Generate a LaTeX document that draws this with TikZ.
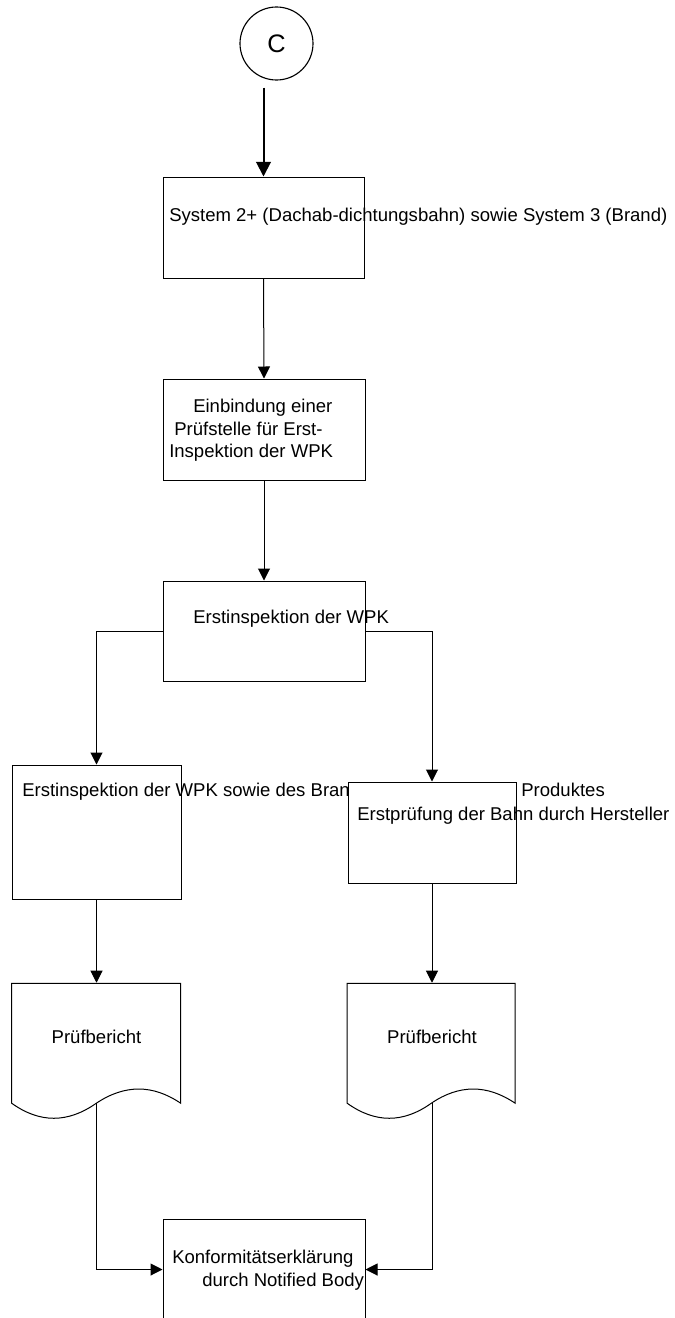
\documentclass[tikz,border=0pt]{standalone}
\usepackage{fontspec}
\setmainfont{Liberation Sans}
\usetikzlibrary{arrows.meta,calc}
\begin{document}
\begin{tikzpicture}[x=0.75pt,y=-0.75pt,
  font=\fontsize{13.9pt}{16.9pt}\selectfont,
  box/.style={draw=black, fill=white, line width=0.75pt, inner sep=0pt},
  txt/.style={inner sep=0pt, anchor=west, align=left},
  ctxt/.style={inner sep=0pt, anchor=center},
  arr/.style={-{Triangle[length=9pt,width=9pt]}, line width=0.75pt},
  thickarr/.style={-{Triangle[length=11pt,width=11pt]}, line width=1.5pt},
  docline/.style={draw=black, fill=white, line width=0.75pt},
  ghost/.style={inner sep=0pt, minimum width=126.75pt, minimum height=90pt}
]
\useasboundingbox (0,0) rectangle (675,1318);
\fill[white] (0,0) rectangle (675,1318);

% start connector
\node (c) [circle, draw=black, line width=0.85pt, minimum size=54.75pt, inner sep=0pt,
  font=\fontsize{19pt}{22pt}\selectfont] at (276.5,43.5) {C};

% box 1
\node (b1) [box, minimum width=150.75pt, minimum height=75.75pt] at (263.5,227.5) {};
\node (t1) [txt] at (169,217) {System 2+ (Dachab-dichtungsbahn) sowie System 3 (Brand)};

% box 2
\node (b2) [box, minimum width=151.5pt, minimum height=75.75pt] at (264,429.5) {};
\node (t2) [txt] at (169,430.5) {\hspace*{18pt}Einbindung einer\\\hspace*{3.75pt}Prüfstelle für Erst-\\Inspektion der WPK};

% box 3
\node (b3) [box, minimum width=151.5pt, minimum height=75pt] at (264,631) {};
\node (t3) [txt] at (193,619) {Erstinspektion der WPK};

% left box
\node (b4) [box, minimum width=126.75pt, minimum height=100.5pt] at (96.5,832) {};
\node (t4) [txt] at (22,792) {Erstinspektion der WPK sowie des Brandverhaltens des\hspace{26.7pt} Produktes};

% right box
\node (b5) [box, minimum width=126pt, minimum height=75.75pt] at (432,832.5) {};
\node (t5) [txt] at (357,816) {Erstprüfung der Bahn durch Hersteller};

% documents
\node (d1) [ghost] at (96.5,1043) {};
\node (d2) [ghost] at (432,1043) {};
\draw[docline, shift={(d1.south west)}] (0,0) .. controls (28,20) and (56,20) .. (84.5,0)
  .. controls (113,-19) and (141,-19) .. (169,0) -- (169,-120) -- (0,-120) -- cycle;
\draw[docline, shift={(d2.south west)}] (0,0) .. controls (28,20) and (56,20) .. (84,0)
  .. controls (112,-19) and (140,-19) .. (168,0) -- (168,-120) -- (0,-120) -- cycle;
\node (t6) [ctxt] at (96.5,1037) {Prüfbericht};
\node (t7) [ctxt] at (432,1037) {Prüfbericht};

% bottom box
\node (b6) [box, minimum width=151.5pt, minimum height=75.75pt] at (264,1269.5) {};
\node (t8) [txt] at (172,1270) {Konformitätserklärung\\\hspace*{22.5pt}durch Notified Body};

% connectors
\coordinate (cs) at ([yshift=-5.25pt]c.south);
\draw[thickarr] (cs -| b1.north) -- (b1.north);
\draw[arr] (b1.south) -- (b2.north);
\draw[arr] (b2.south) -- (b3.north);
\draw[arr] (b3.west) -| (b4.north);
\draw[arr] (b3.east) -| (b5.north);
\draw[arr] (b4.south) -- (d1.north);
\draw[arr] (b5.south) -- (d2.north);
\draw[arr] (d1.south) |- (b6.west);
\draw[arr] (d2.south) |- (b6.east);
\end{tikzpicture}
\end{document}
